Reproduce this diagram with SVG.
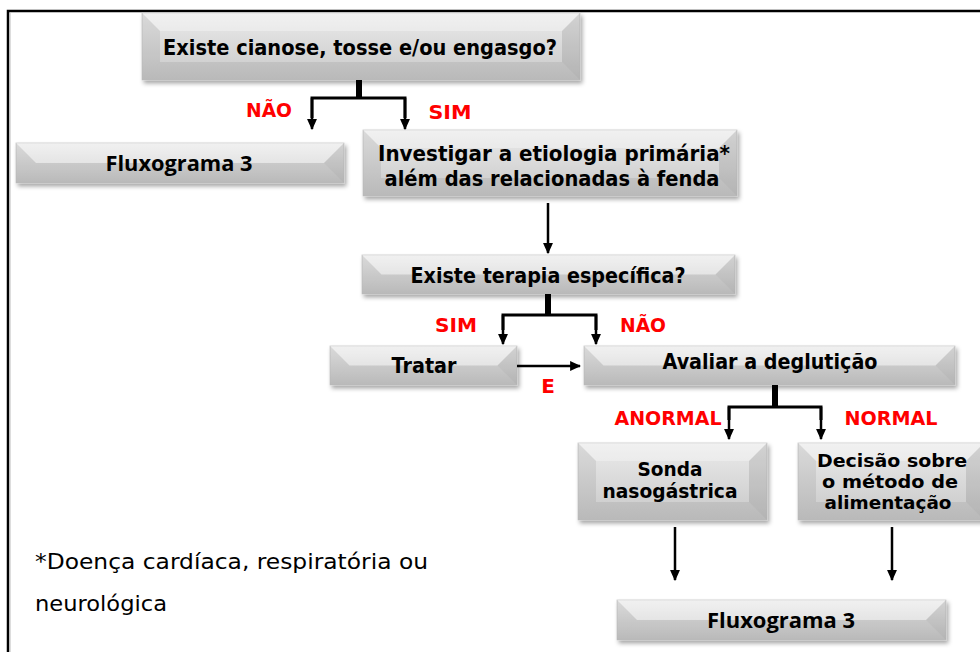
<svg xmlns="http://www.w3.org/2000/svg" width="980" height="652" viewBox="0 0 980 652">
<defs>
<linearGradient id="g" x1="0" y1="0" x2="0" y2="1">
<stop offset="0" stop-color="#ebebeb"/>
<stop offset="1" stop-color="#c8c8c8"/>
</linearGradient>
<filter id="sh" x="-10%" y="-20%" width="120%" height="160%">
<feDropShadow dx="2" dy="3" stdDeviation="2" flood-color="#000" flood-opacity="0.35"/>
</filter>
<marker id="ah" markerUnits="userSpaceOnUse" markerWidth="11" markerHeight="11" viewBox="0 0 10 10" refX="9" refY="5" orient="auto">
<path d="M0,0.5 L10,5 L0,9.5 Z" fill="#000"/>
</marker>
<style>
.base{fill:url(#g);stroke:#c8c8c8;stroke-width:0.8}
.ft{fill:#fff;opacity:0.3}
.fl{fill:#000;opacity:0.07}
.fr{fill:#000;opacity:0.1}
.fb{fill:#000;opacity:0.07}
.t{font-family:"DejaVu Sans",Verdana,sans-serif;font-weight:bold;font-size:21px;fill:#000;text-anchor:middle}
.s{font-size:18.8px}
.d{font-size:18px}
.c{font-family:"Open Sans","Liberation Sans",sans-serif;font-weight:bold;font-size:22px;fill:#000;text-anchor:middle}
.r{font-family:"DejaVu Sans",Verdana,sans-serif;font-weight:bold;font-size:20px;fill:#ff0000;text-anchor:middle}
.n{font-family:"DejaVu Sans",Tahoma,sans-serif;font-size:22px;fill:#000}
.ln{fill:none;stroke:#000;stroke-width:3}
.st{fill:none;stroke:#000;stroke-width:6}
.ar{fill:none;stroke:#000;stroke-width:2.5;marker-end:url(#ah)}
</style>
</defs>
<rect width="980" height="652" fill="#fff"/>
<path d="M8,652 V11 H980" fill="none" stroke="#000" stroke-width="2.5"/>
<path d="M10,652 V13" fill="none" stroke="#bbb" stroke-width="1"/>

<g id="n1" filter="url(#sh)">
<rect class="base" x="142" y="13" width="438" height="67"/>
<polygon class="ft" points="142,13 580,13 562,31 160,31"/>
<polygon class="fl" points="142,13 160,31 160,62 142,80"/>
<polygon class="fr" points="580,13 580,80 562,62 562,31"/>
<polygon class="fb" points="142,80 160,62 562,62 580,80"/>
</g>
<text class="t" x="360" y="55" textLength="394" lengthAdjust="spacingAndGlyphs">Existe cianose, tosse e/ou engasgo?</text>

<g id="n2" filter="url(#sh)">
<rect class="base" x="16" y="143" width="328" height="40"/>
<polygon class="ft" points="16,143 344,143 324,163 36,163"/>
<polygon class="fl" points="16,143 36,163 16,183"/>
<polygon class="fr" points="344,143 344,183 324,163"/>
<polygon class="fb" points="16,183 36,163 324,163 344,183"/>
</g>
<text class="c" x="179" y="171" textLength="147" lengthAdjust="spacingAndGlyphs">Fluxograma 3</text>

<g id="n3" filter="url(#sh)">
<rect class="base" x="363" y="130" width="374" height="66"/>
<polygon class="ft" points="363,130 737,130 719,148 381,148"/>
<polygon class="fl" points="363,130 381,148 381,178 363,196"/>
<polygon class="fr" points="737,130 737,196 719,178 719,148"/>
<polygon class="fb" points="363,196 381,178 719,178 737,196"/>
</g>
<text class="t" x="554" y="161" textLength="352" lengthAdjust="spacingAndGlyphs">Investigar a etiologia primária*</text>
<text class="t" x="552" y="186" textLength="335" lengthAdjust="spacingAndGlyphs">além das relacionadas à fenda</text>

<g id="n4" filter="url(#sh)">
<rect class="base" x="362" y="255" width="373" height="39"/>
<polygon class="ft" points="362,255 735,255 715.5,274.5 381.5,274.5"/>
<polygon class="fl" points="362,255 381.5,274.5 362,294"/>
<polygon class="fr" points="735,255 735,294 715.5,274.5"/>
<polygon class="fb" points="362,294 381.5,274.5 715.5,274.5 735,294"/>
</g>
<text class="t" x="548" y="283" textLength="275" lengthAdjust="spacingAndGlyphs">Existe terapia específica?</text>

<g id="n5" filter="url(#sh)">
<rect class="base" x="330" y="346" width="187" height="39"/>
<polygon class="ft" points="330,346 517,346 497.5,365.5 349.5,365.5"/>
<polygon class="fl" points="330,346 349.5,365.5 330,385"/>
<polygon class="fr" points="517,346 517,385 497.5,365.5"/>
<polygon class="fb" points="330,385 349.5,365.5 497.5,365.5 517,385"/>
</g>
<text class="t" x="424" y="373" textLength="65" lengthAdjust="spacingAndGlyphs">Tratar</text>

<g id="n6" filter="url(#sh)">
<rect class="base" x="584" y="346" width="371" height="39"/>
<polygon class="ft" points="584,346 955,346 935.5,365.5 603.5,365.5"/>
<polygon class="fl" points="584,346 603.5,365.5 584,385"/>
<polygon class="fr" points="955,346 955,385 935.5,365.5"/>
<polygon class="fb" points="584,385 603.5,365.5 935.5,365.5 955,385"/>
</g>
<text class="t" x="770" y="369" textLength="215" lengthAdjust="spacingAndGlyphs">Avaliar a deglutição</text>

<g id="n7" filter="url(#sh)">
<rect class="base" x="578" y="443" width="189" height="77"/>
<polygon class="ft" points="578,443 767,443 749,461 596,461"/>
<polygon class="fl" points="578,443 596,461 596,502 578,520"/>
<polygon class="fr" points="767,443 767,520 749,502 749,461"/>
<polygon class="fb" points="578,520 596,502 749,502 767,520"/>
</g>
<text class="t s" x="670" y="476" textLength="65" lengthAdjust="spacingAndGlyphs">Sonda</text>
<text class="t s" x="670" y="498" textLength="135" lengthAdjust="spacingAndGlyphs">nasogástrica</text>

<g id="n8" filter="url(#sh)">
<rect class="base" x="798" y="443" width="186" height="77"/>
<polygon class="ft" points="798,443 984,443 966,461 816,461"/>
<polygon class="fl" points="798,443 816,461 816,502 798,520"/>
<polygon class="fr" points="984,443 984,520 966,502 966,461"/>
<polygon class="fb" points="798,520 816,502 966,502 984,520"/>
</g>
<text class="t d" x="892" y="467" textLength="150" lengthAdjust="spacingAndGlyphs">Decisão sobre</text>
<text class="t d" x="890" y="488" textLength="136" lengthAdjust="spacingAndGlyphs">o método de</text>
<text class="t d" x="888" y="509" textLength="127" lengthAdjust="spacingAndGlyphs">alimentação</text>

<g id="n9" filter="url(#sh)">
<rect class="base" x="617" y="600" width="329" height="40"/>
<polygon class="ft" points="617,600 946,600 926,620 637,620"/>
<polygon class="fl" points="617,600 637,620 617,640"/>
<polygon class="fr" points="946,600 946,640 926,620"/>
<polygon class="fb" points="617,640 637,620 926,620 946,640"/>
</g>
<text class="c" x="781" y="628" textLength="148" lengthAdjust="spacingAndGlyphs">Fluxograma 3</text>

<g id="connectors">
<path class="st" d="M359,80 V98"/>
<path class="ln" d="M312,118 V98 H405 V118"/>
<path class="ar" d="M312,98 V129"/>
<path class="ar" d="M405,98 V129"/>
<path class="ar" d="M548,203 V253"/>
<path class="st" d="M548,294 V315"/>
<path class="ln" d="M503,330 V315 H596 V330"/>
<path class="ar" d="M503,315 V344"/>
<path class="ar" d="M596,315 V344"/>
<path class="ar" d="M517,366 H580"/>
<path class="st" d="M775,385 V406"/>
<path class="ln" d="M729,420 V407 H821 V420"/>
<path class="ar" d="M729,407 V439"/>
<path class="ar" d="M821,407 V439"/>
<path class="ar" d="M675,527 V580"/>
<path class="ar" d="M892,527 V580"/>
</g>

<g id="labels">
<text class="r" x="269" y="117" textLength="46" lengthAdjust="spacingAndGlyphs">NÃO</text>
<text class="r" x="450" y="119" textLength="43" lengthAdjust="spacingAndGlyphs">SIM</text>
<text class="r" x="456" y="332" textLength="42" lengthAdjust="spacingAndGlyphs">SIM</text>
<text class="r" x="643" y="332" textLength="46" lengthAdjust="spacingAndGlyphs">NÃO</text>
<text class="r" x="548" y="393">E</text>
<text class="r" x="668" y="425" textLength="107" lengthAdjust="spacingAndGlyphs">ANORMAL</text>
<text class="r" x="891" y="425" textLength="93" lengthAdjust="spacingAndGlyphs">NORMAL</text>
</g>

<g id="footnote">
<text class="n" x="35" y="569" textLength="393" lengthAdjust="spacingAndGlyphs">*Doença cardíaca, respiratória ou</text>
<text class="n" x="35" y="611" textLength="132" lengthAdjust="spacingAndGlyphs">neurológica</text>
</g>
</svg>
